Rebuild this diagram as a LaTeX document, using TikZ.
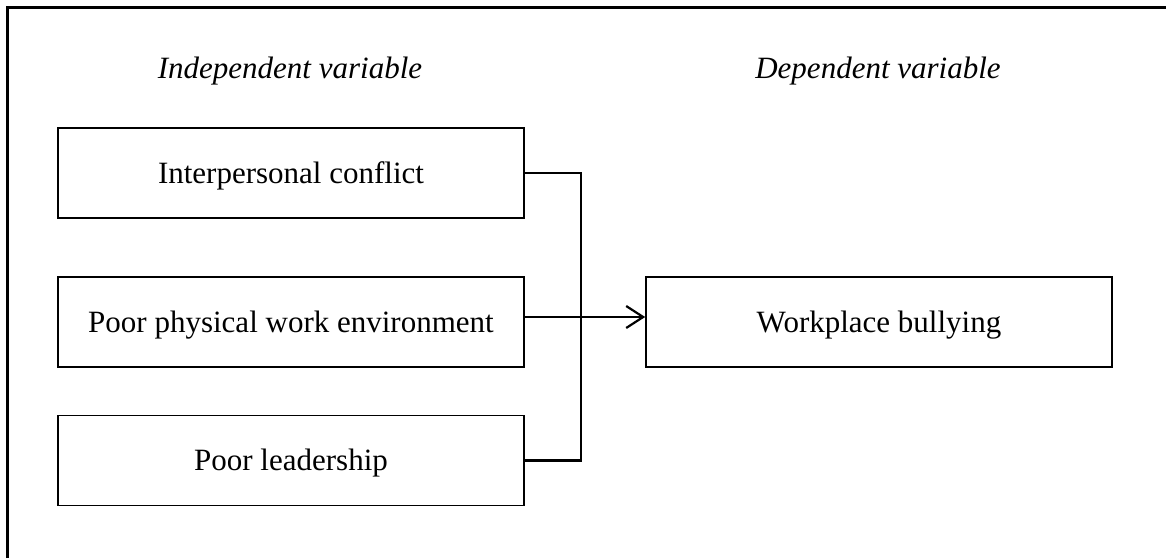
\documentclass[tikz,border=0pt]{standalone}
\usepackage{fontspec}
\setmainfont{Liberation Serif}
\usetikzlibrary{arrows.meta}
\begin{document}
\begin{tikzpicture}[x=1pt,y=-1pt,
  box/.style={draw, line width=1.6pt, minimum width=466pt, minimum height=90pt, inner sep=0pt, text height=20pt, text depth=0pt, font=\fontsize{31}{36}\selectfont},
  head/.style={font=\fontsize{31}{36}\selectfont\itshape, inner sep=0pt, text height=20pt, text depth=0pt},
  conn/.style={line width=2.2pt},
  frame/.style={line width=3pt}]
\useasboundingbox (0,0) rectangle (1167,558);
\draw[frame] (7,558) -- (7,7) -- (1166,7);
\node[head] (hi) at (290,68) {Independent variable};
\node[head] (hd) at (878,68) {Dependent variable};
\node[box] (b1) at (291,173) {Interpersonal conflict};
\node[box] (b2) at (291,322) {Poor physical work environment};
\node[box] (b3) at (291,460.5) {Poor leadership};
\node[box] (b4) at (879,322) {Workplace bullying};
\coordinate (j1) at (581,173);
\coordinate (j3) at (581,460.5);
\draw[conn, line cap=rect] (b1.east) -- (j1) -- (j3) -- (b3.east);
\draw[conn, -{Straight Barb[length=17pt,width=22pt]}] ([yshift=5pt]b2.east) -- ([yshift=5pt]b4.west);
\end{tikzpicture}
\end{document}
